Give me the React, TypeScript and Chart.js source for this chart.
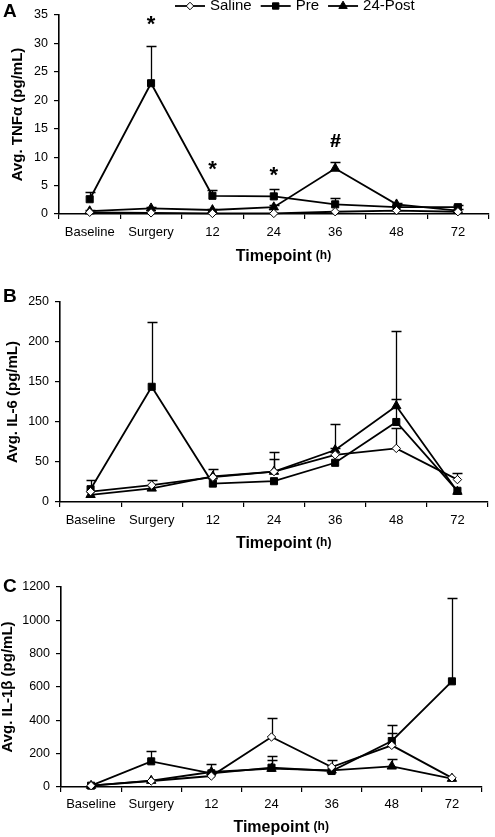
import React, { useEffect, useRef } from 'react';
import { Chart, registerables } from 'chart.js';

Chart.register(...registerables);

const FONT = 'Arial, "Liberation Sans", Helvetica, sans-serif';
Chart.defaults.font.family = FONT;
Chart.defaults.color = '#000';

// ---------- data ----------
const categories = ['Baseline', 'Surgery', '12', '24', '36', '48', '72'];
const seriesNames = ['Saline', 'Pre', '24-Post'];

// Panel A – TNFα (pg/mL)
const tnfSaline = [0.3, 0.2, 0.1, 0.1, 0.4, 0.6, 0.4];
const tnfSalineErr = [0, 0, 0, 0, 0, 0, 0];
const tnfPre = [2.6, 23.0, 3.2, 3.1, 1.7, 1.2, 1.2];
const tnfPreErr = [1.2, 6.5, 1.0, 1.3, 1.1, 0.3, 0.3];
const tnfPost = [0.5, 1.0, 0.7, 1.2, 8.0, 1.7, 0.6];
const tnfPostErr = [0.2, 0.3, 0.2, 0.4, 1.1, 0.3, 0.2];
const tnfMarks = ['', '*', '*', '*', '#', '', ''];
const tnfMarkValues = [null, 34.1, 8.6, 7.4, 13.0, null, null];

// Panel B – IL-6 (pg/mL)
const il6Saline = [13, 21, 31, 38, 59, 67, 28];
const il6SalineErr = [0, 0, 0, 24, 9, 25, 8];
const il6Pre = [16, 144, 23, 26, 49, 100, 14];
const il6PreErr = [11, 81, 0, 0, 0, 114, 0];
const il6Post = [9, 17, 32, 38, 65, 120, 13];
const il6PostErr = [0, 10, 9, 16, 33, 9, 0];

// Panel C – IL-1β (pg/mL)
const il1Saline = [8, 36, 66, 300, 120, 250, 55];
const il1SalineErr = [0, 0, 0, 116, 40, 76, 0];
const il1Pre = [8, 154, 82, 116, 96, 276, 634];
const il1PreErr = [0, 60, 0, 68, 0, 98, 500];
const il1Post = [8, 38, 90, 110, 100, 124, 50];
const il1PostErr = [0, 0, 50, 50, 0, 42, 0];

// ---------- styles ----------
const pointStyles = ['rectRot', 'rect', 'triangle'];
const pointRadii = [4.2, 5, 5.4];
const pointFills = ['#ffffff', '#000000', '#000000'];

const panels = [
  {
    letter: 'A', yTitle: 'Avg. TNF\u03b1 (pg/mL)', min: 0, max: 35, step: 5,
    series: [tnfSaline, tnfPre, tnfPost], errors: [tnfSalineErr, tnfPreErr, tnfPostErr],
    marks: tnfMarks, markValues: tnfMarkValues, legend: true,
    top: 0, height: 270, yWidth: 59, padTop: 15, padRight: 2, xHeight: 56, xTitlePad: 3.5, yTitlePad: 9, letterY: 12, tickPad: 6,
  },
  {
    letter: 'B', yTitle: 'Avg. IL-6 (pg/mL)', min: 0, max: 250, step: 50,
    series: [il6Saline, il6Pre, il6Post], errors: [il6SalineErr, il6PreErr, il6PostErr],
    marks: null, markValues: null, legend: false,
    top: 270, height: 290, yWidth: 60, padTop: 32, padRight: 7, xHeight: 58, xTitlePad: 6.5, yTitlePad: 3.5, letterY: 27, tickPad: 6,
  },
  {
    letter: 'C', yTitle: 'Avg. IL-1\u03b2 (pg/mL)', min: 0, max: 1200, step: 200,
    series: [il1Saline, il1Pre, il1Post], errors: [il1SalineErr, il1PreErr, il1PostErr],
    marks: null, markValues: null, legend: false,
    top: 560, height: 277, yWidth: 61, padTop: 27, padRight: 13, xHeight: 50, xTitlePad: 0, yTitlePad: -1, letterY: 27, tickPad: 5,
  },
];

function drawMarker(ctx: CanvasRenderingContext2D, style: string, x: number, y: number, r: number, fill: string) {
  ctx.beginPath();
  if (style === 'rectRot') {
    ctx.moveTo(x, y - r); ctx.lineTo(x + r, y); ctx.lineTo(x, y + r); ctx.lineTo(x - r, y); ctx.closePath();
  } else if (style === 'rect') {
    const s = r * Math.SQRT1_2;
    ctx.rect(x - s, y - s, 2 * s, 2 * s);
  } else {
    ctx.moveTo(x, y - r); ctx.lineTo(x + 0.866 * r, y + 0.5 * r); ctx.lineTo(x - 0.866 * r, y + 0.5 * r); ctx.closePath();
  }
  ctx.fillStyle = fill; ctx.fill();
  ctx.lineWidth = 1; ctx.strokeStyle = '#000'; ctx.stroke();
}

const errorBarPlugin = {
  id: 'errorBars',
  beforeDatasetsDraw(chart: any) {
    const ctx = chart.ctx; const ys = chart.scales.y;
    ctx.save(); ctx.strokeStyle = '#000'; ctx.lineWidth = 1.3;
    chart.data.datasets.forEach((ds: any, di: number) => {
      const meta = chart.getDatasetMeta(di);
      ds.errors.forEach((e: number, i: number) => {
        if (!e) return;
        const pt = meta.data[i];
        const x = Math.round(pt.x) + 0.5;
        const y0 = ys.getPixelForValue(ds.data[i]);
        const y1 = Math.round(ys.getPixelForValue(ds.data[i] + e)) + 0.5;
        ctx.beginPath();
        ctx.moveTo(x, y0); ctx.lineTo(x, y1);
        ctx.moveTo(x - 5, y1); ctx.lineTo(x + 5, y1);
        ctx.stroke();
      });
    });
    ctx.restore();
  },
};

function decorPlugin(p: any) {
  return {
    id: 'decor',
    afterDraw(chart: any) {
      const ctx = chart.ctx; const xs = chart.scales.x; const ys = chart.scales.y;
      ctx.save();
      ctx.fillStyle = '#000';
      // panel letter
      ctx.font = `bold 19px ${FONT}`; ctx.textBaseline = 'middle'; ctx.textAlign = 'left';
      ctx.fillText(p.letter, 3, p.letterY);
      // "(h)" after the axis title
      ctx.font = `bold 16px ${FONT}`;
      const w = ctx.measureText('Timepoint').width;
      const titleY = xs.bottom - 16 * 1.2 / 2 - p.xTitlePad;
      const cx = (chart.chartArea.left + chart.chartArea.right) / 2;
      ctx.font = `bold 12px ${FONT}`;
      ctx.fillText('(h)', cx + w / 2 + 4, titleY - 1);
      // significance marks
      if (p.marks) {
        p.marks.forEach((m: string, i: number) => {
          if (!m) return;
          ctx.font = m === '*' ? `bold 22px ${FONT}` : `bold 19px ${FONT}`;
          ctx.textAlign = 'center'; ctx.textBaseline = 'alphabetic';
          const mt = ctx.measureText(m);
          const yc = ys.getPixelForValue(p.markValues[i]);
          const base = yc + (mt.actualBoundingBoxAscent - mt.actualBoundingBoxDescent) / 2;
          ctx.fillStyle = '#000';
          ctx.fillText(m, xs.getPixelForValue(i), base);
          if (m === '#') ctx.fillText(m, xs.getPixelForValue(i) + 0.5, base);
        });
      }
      // legend
      if (p.legend) {
        let x = 175; const ly = 6;
        ctx.font = `15px ${FONT}`; ctx.textAlign = 'left'; ctx.textBaseline = 'middle';
        seriesNames.forEach((name, i) => {
          ctx.beginPath(); ctx.lineWidth = 1.8; ctx.strokeStyle = '#000';
          ctx.moveTo(x, ly); ctx.lineTo(x + 30, ly); ctx.stroke();
          drawMarker(ctx, pointStyles[i], x + 15, ly, pointRadii[i] * 0.9, pointFills[i]);
          ctx.fillStyle = '#000';
          ctx.font = `15px ${FONT}`;
          ctx.fillText(name, x + 35, ly);
          x += 35 + ctx.measureText(name).width + 9;
        });
      }
      ctx.restore();
    },
  };
}

function buildConfig(p: any): any {
  const datasets = p.series.map((values: number[], i: number) => ({
    label: seriesNames[i],
    data: values,
    errors: p.errors[i],
    borderColor: '#000',
    backgroundColor: pointFills[i],
    borderWidth: 1.8,
    tension: 0,
    fill: false,
    clip: false,
    pointStyle: pointStyles[i],
    pointRadius: pointRadii[i],
    pointHoverRadius: pointRadii[i],
    pointBackgroundColor: pointFills[i],
    pointBorderColor: '#000',
    pointBorderWidth: 1,
  }));
  return {
    type: 'line',
    data: { labels: categories, datasets },
    options: {
      responsive: false,
      animation: false,
      devicePixelRatio: 1,
      events: [],
      layout: { padding: { top: p.padTop, right: p.padRight, left: 0, bottom: 0 } },
      plugins: { legend: { display: false }, tooltip: { enabled: false }, title: { display: false } },
      scales: {
        x: {
          type: 'category',
          offset: true,
          grid: { offset: true, drawOnChartArea: false, drawTicks: true, tickLength: 5, color: '#000', lineWidth: 1.2 },
          border: { display: true, color: '#000', width: 1.6 },
          ticks: { color: '#000', font: { family: FONT, size: 13 }, padding: p.tickPad, maxRotation: 0, autoSkip: false },
          title: {
            display: true, text: 'Timepoint', color: '#000',
            font: { family: FONT, size: 16, weight: 'bold' },
            padding: { top: 0, bottom: p.xTitlePad },
          },
          afterFit: (s: any) => { s.height = p.xHeight; },
        },
        y: {
          min: p.min, max: p.max,
          grid: { drawOnChartArea: false, drawTicks: true, tickLength: 5, color: '#000', lineWidth: 1.2 },
          border: { display: true, color: '#000', width: 1.6 },
          ticks: {
            stepSize: p.step, color: '#000', font: { family: FONT, size: 12.5 }, padding: 6,
            callback: (v: any) => String(v),
          },
          title: {
            display: true, text: p.yTitle, color: '#000',
            font: { family: FONT, size: 15, weight: 'bold' },
            padding: { top: p.yTitlePad, bottom: 0 },
          },
          afterFit: (s: any) => { s.width = p.yWidth; },
        },
      },
    },
    plugins: [errorBarPlugin, decorPlugin(p)],
  };
}

function Panel({ cfg }: { cfg: any }) {
  const ref = useRef<HTMLCanvasElement>(null);
  useEffect(() => {
    const chart = new Chart(ref.current as HTMLCanvasElement, buildConfig(cfg));
    return () => chart.destroy();
  }, []);
  return (
    <canvas
      ref={ref}
      width={495}
      height={cfg.height}
      style={{ position: 'absolute', left: 0, top: cfg.top, width: 495, height: cfg.height, display: 'block' }}
    />
  );
}

export default function App() {
  return (
    <div style={{ position: 'fixed', left: 0, top: 0, width: 495, height: 837, background: '#fff', overflow: 'hidden' }}>
      {panels.map((p) => <Panel key={p.letter} cfg={p} />)}
    </div>
  );
}
